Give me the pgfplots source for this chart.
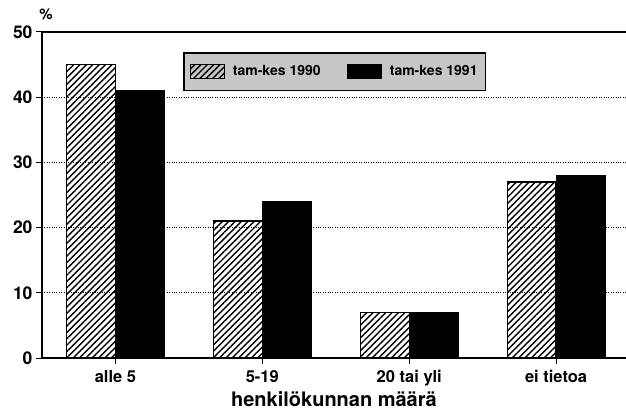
\documentclass[border=0pt]{standalone}
\usepackage{fontspec}
\setmainfont{TeX Gyre Heros}
\usepackage{pgfplots}
\pgfplotsset{compat=1.18}
\usetikzlibrary{patterns.meta}

\begin{document}
\begin{tikzpicture}[font=\fontsize{14}{16}\selectfont\bfseries]
\begin{axis}[
  at={(0,0)}, anchor=south west,
  scale only axis, width=584pt, height=326pt,
  clip mode=individual,
  xmin=-0.5, xmax=3.476, ymin=0, ymax=50,
  axis x line*=bottom, axis y line*=left,
  axis line style={line width=1.2pt},
  xtick={0,1,2,3}, xticklabels={alle 5, 5-19, 20 tai yli, ei tietoa},
  ytick={0,10,20,30,40,50},
  tick align=outside, major tick length=6pt,
  tick style={black, line width=1pt},
  ymajorgrids, grid style={dotted, line width=0.9pt, black},
  /pgf/number format/assume math mode=true,
  yticklabel style={font=\fontsize{17.5}{19}\selectfont\bfseries},
  xticklabel style={font=\fontsize{16.5}{19}\selectfont\bfseries, yshift=-3pt},
  xlabel={henkilökunnan määrä},
  xlabel style={font=\fontsize{20}{22}\selectfont\bfseries, yshift=2pt},
  legend style={at={(axis description cs:0.2414,0.9387)}, anchor=north west,
    draw=black, line width=1.6pt, fill=black!22, inner xsep=6pt, inner ysep=11pt,
    font=\fontsize{14}{16}\selectfont\bfseries,
    /tikz/every even column/.append style={column sep=24pt}},
  legend columns=2,
  legend image code/.code={\draw[#1, line width=1pt] (0pt,-7pt) rectangle (34pt,7pt);\path (40pt,0pt);},
]
\addplot[ybar, bar width=0.333, bar shift=-0.1667, draw=black, line width=1.2pt,
  pattern={Lines[angle=45,distance=4.5pt,line width=1.4pt]}, pattern color=black]
  coordinates {(0,45) (1,21) (2,7) (3,27)};
\addlegendentry{tam-kes 1990}
\addplot[ybar, bar width=0.333, bar shift=0.1667, draw=black, line width=1.2pt, fill=black]
  coordinates {(0,41) (1,24) (2,7) (3,28)};
\addlegendentry{tam-kes 1991}
\draw[line width=1.2pt] (rel axis cs:0,1) -- (rel axis cs:1,1);
\node[anchor=south, inner sep=0pt, xshift=4pt, yshift=12pt, font=\fontsize{15}{17}\selectfont\bfseries] at (rel axis cs:0,1) {\%};
\end{axis}
\pgfresetboundingbox
\path[use as bounding box] (-42pt,-54pt) rectangle (584pt,358pt);
\end{tikzpicture}
\end{document}
